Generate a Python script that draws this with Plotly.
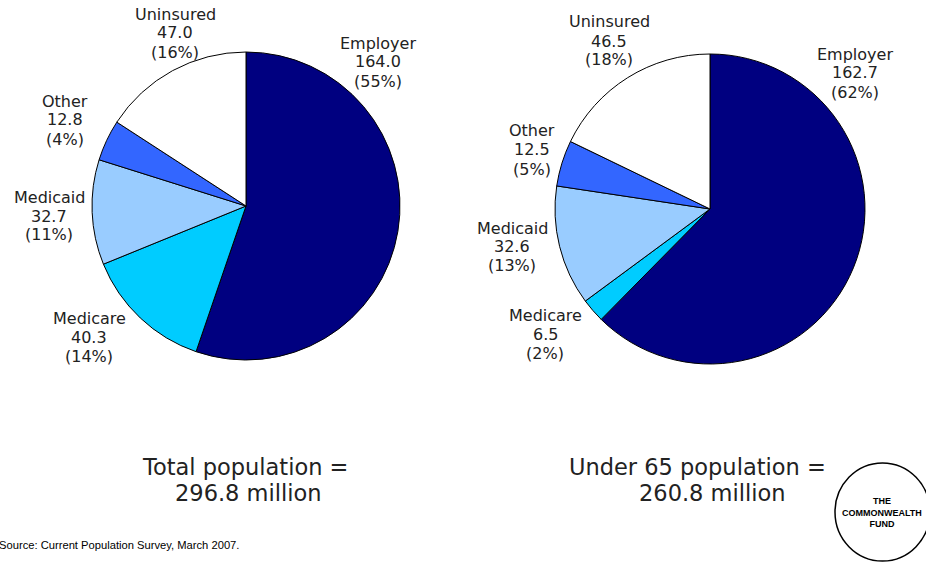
import plotly.graph_objects as go

W, H = 926, 562

categories = ['Employer', 'Medicare', 'Medicaid', 'Other', 'Uninsured']
total_values = [164.0, 40.3, 32.7, 12.8, 47.0]
total_pct = ['55%', '14%', '11%', '4%', '16%']
under65_values = [162.7, 6.5, 32.6, 12.5, 46.5]
under65_pct = ['62%', '2%', '13%', '5%', '18%']
totals = ['296.8', '260.8']
titles = ['Total population =', 'Under 65 population =']

colors = ['#000080', '#00CCFF', '#99CCFF', '#3366FF', '#FFFFFF']

# label centres (pixels) for each slice, as they sit in the slide
total_label_pos = [(378, 62), (89, 337), (49, 216), (65, 120), (175, 33)]
under65_label_pos = [(855, 73), (545, 334), (512, 247), (532, 150), (609, 41)]


def px_x(x):
    return x / W


def px_y(y):
    return 1 - y / H


def pie_domain(cx, cy, r):
    return dict(x=[px_x(cx - r), px_x(cx + r)], y=[px_y(cy + r), px_y(cy - r)])


def make_pie(values, domain):
    return go.Pie(
        labels=categories,
        values=values,
        domain=domain,
        sort=False,
        direction='clockwise',
        rotation=0,
        textinfo='none',
        hoverinfo='label+value+percent',
        marker=dict(colors=colors, line=dict(color='black', width=1)),
        showlegend=False,
    )


def slice_labels(values, pcts, positions):
    anns = []
    for name, v, p, (x, y) in zip(categories, values, pcts, positions):
        # one annotation per line keeps the tight line spacing of the slide
        for i, line in enumerate([name, f'{v:.1f}', f'({p})']):
            anns.append(dict(
                x=px_x(x), y=px_y(y + (i - 1) * 19), xref='paper', yref='paper',
                text=line, showarrow=False, xanchor='center', yanchor='middle',
                font=dict(family='DejaVu Sans', size=16, color='#222222'),
            ))
    return anns


fig = go.Figure()
fig.add_trace(make_pie(total_values, pie_domain(246, 206, 154)))
fig.add_trace(make_pie(under65_values, pie_domain(710, 209, 155)))

annotations = slice_labels(total_values, total_pct, total_label_pos)
annotations += slice_labels(under65_values, under65_pct, under65_label_pos)

title_font = dict(family='DejaVu Sans', size=22.5, color='#222222')
for title, tot, cx1, cx2 in zip(titles, totals, [245, 697], [249, 712]):
    annotations.append(dict(x=px_x(cx1), y=px_y(467), xref='paper', yref='paper',
                            text=title, showarrow=False, xanchor='center',
                            yanchor='middle', font=title_font))
    annotations.append(dict(x=px_x(cx2), y=px_y(493), xref='paper', yref='paper',
                            text=f'{tot} million', showarrow=False, xanchor='center',
                            yanchor='middle', font=title_font))

annotations.append(dict(
    x=0, y=px_y(545), xref='paper', yref='paper', xshift=-3,
    text='Source: Current Population Survey, March 2007.',
    showarrow=False, xanchor='left', yanchor='middle',
    font=dict(family='Liberation Sans', size=11.2, color='black'),
))
annotations.append(dict(
    x=px_x(882), y=px_y(512), xref='paper', yref='paper',
    text='<b>THE<br>COMMONWEALTH<br>FUND</b>',
    showarrow=False, xanchor='center', yanchor='middle', align='center',
    font=dict(family='Liberation Sans Narrow, Liberation Sans', size=9, color='black'),
))

fig.update_layout(
    width=W,
    height=H,
    margin=dict(l=0, r=0, t=0, b=0),
    paper_bgcolor='white',
    plot_bgcolor='white',
    annotations=annotations,
    shapes=[dict(
        type='circle', xref='paper', yref='paper',
        x0=px_x(835), x1=px_x(930), y0=px_y(561), y1=px_y(463),
        line=dict(color='black', width=1.5),
    )],
)

# drop the browser's default 8px body margin so the figure sits at the page corner
fig.write_html("out.html", config={'displayModeBar': False},
               post_script="document.body.style.margin='0';")
